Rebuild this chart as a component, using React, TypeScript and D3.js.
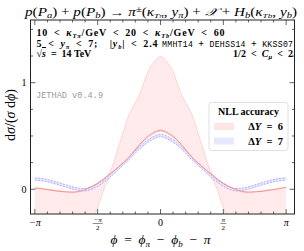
import React from 'react'
import * as d3 from 'd3'

// azimuthal grid (rad), -pi .. pi in steps of pi/12
const phiPts = [-3.1416, -2.8798, -2.618, -2.3562, -2.0944, -1.8326, -1.5708, -1.309, -1.0472, -0.7854, -0.5236, -0.2618, 0,
  0.2618, 0.5236, 0.7854, 1.0472, 1.309, 1.5708, 1.8326, 2.0944, 2.3562, 2.618, 2.8798, 3.1416]

// DeltaY = 6, central and scale band
const dY6 = [0.012, 0.0, -0.015, -0.025, -0.025, 0.005, 0.055, 0.13, 0.21, 0.30, 0.42, 0.51, 0.553,
  0.51, 0.42, 0.30, 0.21, 0.13, 0.055, 0.005, -0.025, -0.025, -0.015, 0.0, 0.018]
const dY6Hi = [0.016, 0.004, -0.011, -0.021, -0.021, 0.009, 0.06, 0.135, 0.40, 0.70, 0.89, 1.14, 1.244,
  1.14, 0.89, 0.70, 0.40, 0.135, 0.06, 0.009, -0.021, -0.021, -0.011, 0.004, 0.022]
const dY6Lo = [-1.73, -1.47, -1.21, -0.95, -0.69, -0.43, -0.17, 0.09, 0.20, 0.29, 0.41, 0.50, 0.545,
  0.50, 0.41, 0.29, 0.20, 0.09, -0.17, -0.43, -0.69, -0.95, -1.21, -1.47, -1.73]

// DeltaY = 7 band
const dY7Hi = [0.108, 0.096, 0.071, 0.041, 0.014, 0.009, 0.051, 0.121, 0.212, 0.302, 0.402, 0.477, 0.517,
  0.477, 0.402, 0.302, 0.212, 0.121, 0.051, 0.009, 0.014, 0.041, 0.071, 0.096, 0.108]
const dY7Lo = [0.086, 0.074, 0.049, 0.019, -0.008, -0.013, 0.029, 0.099, 0.188, 0.278, 0.378, 0.453, 0.493,
  0.453, 0.378, 0.278, 0.188, 0.099, 0.029, -0.013, -0.008, 0.019, 0.049, 0.074, 0.086]

const yTicks = [0, 0.25, 0.5, 0.75, 1, 1.25, 1.5]
const yLabels = [{ v: 0, t: '0' }, { v: 1, t: '1' }]

const W = 304, H = 251
const L = 30.5, R = 294.5, T = 20, B = 214

const serif = "'Liberation Serif', 'DejaVu Serif', serif"
const mono = "'Liberation Mono', 'DejaVu Sans Mono', monospace"
const sp = '\u2002' // en space, LaTeX-ish relation spacing

export default function App() {
  const x = d3.scaleLinear().domain([-3.25, 3.35]).range([L, R])
  const y = d3.scaleLinear().domain([-0.232, 1.588]).range([B, T])

  const line = (vals: number[]) =>
    d3.line<number>().x((d, i) => x(phiPts[i])).y(d => y(d)).curve(d3.curveCatmullRom)(vals) || ''
  const band = (lo: number[], hi: number[]) =>
    d3.area<number>()
      .x((d, i) => x(phiPts[i]))
      .y0((d, i) => y(lo[i]))
      .y1((d, i) => y(hi[i]))
      .curve(d3.curveCatmullRom)(lo) || ''

  const xMinor = d3.range(-10, 11).map(k => (k * Math.PI) / 10)
  const xMajor = [-Math.PI, -Math.PI / 2, 0, Math.PI / 2, Math.PI]

  const red = '#ff8c8c'
  const redEdge = '#ffc4c4'
  const blue = '#9b9bff'

  return (
    <svg width={W} height={H} style={{ position: 'absolute', left: 0, top: 0, background: '#fff' }}
      fontFamily={serif}>
      <defs>
        <clipPath id="plot"><rect x={L} y={T} width={R - L} height={B - T} /></clipPath>
      </defs>

      <g clipPath="url(#plot)">
        <path d={band(dY6Lo, dY6Hi)} fill="#ffe3e3" fillOpacity={0.7} stroke="none" />
        <path d={line(dY6Hi)} fill="none" stroke={redEdge} strokeWidth={0.7} />
        <path d={line(dY6Lo)} fill="none" stroke={redEdge} strokeWidth={0.7} />
        <path d={band(dY7Lo, dY7Hi)} fill="#e8e8ff" stroke="none" />
        <path d={line(dY7Hi)} fill="none" stroke={blue} strokeWidth={0.8} strokeDasharray="2,1.2" />
        <path d={line(dY7Lo)} fill="none" stroke={blue} strokeWidth={0.8} strokeDasharray="2,1.2" />
        <path d={line(dY6)} fill="none" stroke={red} strokeWidth={1} />
      </g>

      {/* frame */}
      <rect x={L} y={T} width={R - L} height={B - T} fill="none" stroke="#222" strokeWidth={1} />

      {/* x ticks */}
      {xMinor.map((v, i) => {
        const major = xMajor.some(m => Math.abs(m - v) < 1e-6)
        const len = major ? 5 : 2.5
        return (
          <g key={'xt' + i} stroke="#222" strokeWidth={0.7}>
            <line x1={x(v)} x2={x(v)} y1={B} y2={B - len} />
            <line x1={x(v)} x2={x(v)} y1={T} y2={T + len} />
          </g>
        )
      })}
      {/* y ticks */}
      {yTicks.map((v, i) => {
        const len = v === 0 || v === 1 ? 5 : 2.5
        return (
          <g key={'yt' + i} stroke="#222" strokeWidth={0.7}>
            <line x1={L} x2={L + len} y1={y(v)} y2={y(v)} />
            <line x1={R} x2={R - len} y1={y(v)} y2={y(v)} />
          </g>
        )
      })}
      {yLabels.map(d => (
        <text key={'yl' + d.t} x={L - 4} y={y(d.v) + 3.5} textAnchor="end" fontSize={10}>{d.t}</text>
      ))}

      {/* x tick labels */}
      <text x={x(-Math.PI)} y={226} textAnchor="middle" fontSize={10} fontStyle="italic">−π</text>
      <text x={x(0)} y={226} textAnchor="middle" fontSize={10}>0</text>
      <text x={x(Math.PI)} y={226} textAnchor="middle" fontSize={10} fontStyle="italic">π</text>
      <g fontSize={7} textAnchor="middle">
        <text x={x(-Math.PI / 2)} y={222} fontStyle="italic">−π</text>
        <line x1={x(-Math.PI / 2) - 5} x2={x(-Math.PI / 2) + 5} y1={223.5} y2={223.5} stroke="#222" strokeWidth={0.5} />
        <text x={x(-Math.PI / 2)} y={229.5}>2</text>
        <text x={x(Math.PI / 2)} y={222} fontStyle="italic">π</text>
        <line x1={x(Math.PI / 2) - 3} x2={x(Math.PI / 2) + 3} y1={223.5} y2={223.5} stroke="#222" strokeWidth={0.5} />
        <text x={x(Math.PI / 2)} y={229.5}>2</text>
      </g>

      {/* axis titles */}
      <text x={x(0)} y={244} textAnchor="middle" fontSize={13.5} style={{ whiteSpace: 'pre' }}>
        <tspan fontStyle="italic">ϕ</tspan>{sp}={sp}<tspan fontStyle="italic">ϕ</tspan>
        <tspan fontSize={9} fontStyle="italic" dy={2.5}>π</tspan>
        <tspan dy={-2.5}>{sp}−{sp}</tspan><tspan fontStyle="italic">ϕ</tspan>
        <tspan fontSize={9} fontStyle="italic" dy={2.5}>b</tspan>
        <tspan dy={-2.5}>{sp}−{sp}</tspan><tspan fontStyle="italic">π</tspan>
      </text>
      <text transform={`translate(15,${(T + B) / 2 - 2}) rotate(-90)`} textAnchor="middle" fontSize={14}>
        d<tspan fontStyle="italic">σ</tspan>/(<tspan fontStyle="italic">σ</tspan> d<tspan fontStyle="italic">ϕ</tspan>)
      </text>

      {/* title */}
      <text x={161} y={16} textAnchor="middle" fontSize={11.5} textLength={272} lengthAdjust="spacingAndGlyphs">
        <tspan fontStyle="italic">p</tspan>(<tspan fontStyle="italic">P</tspan>
        <tspan fontSize={8} fontStyle="italic" dy={2}>a</tspan><tspan dy={-2}>) + </tspan>
        <tspan fontStyle="italic">p</tspan>(<tspan fontStyle="italic">P</tspan>
        <tspan fontSize={8} fontStyle="italic" dy={2}>b</tspan><tspan dy={-2}>) → </tspan>
        <tspan fontStyle="italic">π</tspan><tspan fontSize={8} dy={-4}>±</tspan>
        <tspan dy={4}>(</tspan><tspan fontStyle="italic">κ</tspan>
        <tspan fontSize={7} fontStyle="italic" dy={2}>Tπ</tspan><tspan dy={-2}>, </tspan>
        <tspan fontStyle="italic">y</tspan><tspan fontSize={8} fontStyle="italic" dy={2}>π</tspan>
        <tspan dy={-2}>) + </tspan><tspan fontStyle="italic">𝒳</tspan> + <tspan fontStyle="italic">H</tspan>
        <tspan fontSize={8} fontStyle="italic" dy={2}>b</tspan><tspan dy={-2}>(</tspan>
        <tspan fontStyle="italic">κ</tspan><tspan fontSize={7} fontStyle="italic" dy={2}>Tb</tspan>
        <tspan dy={-2}>, </tspan><tspan fontStyle="italic">y</tspan>
        <tspan fontSize={8} fontStyle="italic" dy={2}>b</tspan><tspan dy={-2}>)</tspan>
      </text>

      {/* info lines */}
      <g fontSize={10} fontWeight="bold" style={{ whiteSpace: 'pre' }}>
        <text x={36.5} y={35.5} textLength={188} lengthAdjust="spacing">
          10{sp}&lt;{sp}<tspan fontStyle="italic">κ</tspan><tspan fontSize={6.5} fontStyle="italic" dy={2}>Tπ</tspan>
          <tspan dy={-2}>/GeV{sp}&lt;{sp}20{sp}&lt;{sp}</tspan><tspan fontStyle="italic">κ</tspan>
          <tspan fontSize={6.5} fontStyle="italic" dy={2}>Tb</tspan><tspan dy={-2}>/GeV{sp}&lt;{sp}60</tspan>
        </text>
        <text x={36.5} y={46.5} textLength={121} lengthAdjust="spacing">
          5{sp}&lt;{sp}<tspan fontStyle="italic">y</tspan><tspan fontSize={6.5} fontStyle="italic" dy={2}>π</tspan>
          <tspan dy={-2}>{sp}&lt;{sp}7;{sp}{sp}|</tspan><tspan fontStyle="italic">y</tspan>
          <tspan fontSize={6.5} fontStyle="italic" dy={2}>b</tspan><tspan dy={-2}>|{sp}&lt;{sp}2.4</tspan>
        </text>
        <text x={162} y={46.5} fontFamily={mono} fontWeight="normal" fontSize={8.2} textLength={131} lengthAdjust="spacing">
          MMHT14 <tspan fontFamily={serif} fontWeight="bold" fontSize={10}>+</tspan> DEHSS14 <tspan fontFamily={serif} fontWeight="bold" fontSize={10}>+</tspan> KKSS07
        </text>
        <text x={36.5} y={57}>
          √<tspan fontStyle="italic" textDecoration="overline">s</tspan>{sp}={sp}14 TeV
        </text>
        <text x={233} y={57} textLength={60} lengthAdjust="spacing">
          1/2{sp}&lt;{sp}<tspan fontStyle="italic">C</tspan><tspan fontSize={6.5} fontStyle="italic" dy={2}>μ</tspan>
          <tspan dy={-2}>{sp}&lt;{sp}2</tspan>
        </text>
      </g>

      <text x={36} y={98} fontFamily={mono} fontSize={8.6} fill="#9a9a9a">JETHAD v0.4.9</text>

      {/* legend */}
      <g>
        <rect x={209} y={102.5} width={79} height={48} rx={2.5} fill="#fff" fillOpacity={0.85} stroke="#d8d8d8" strokeWidth={0.8} />
        <text x={248.5} y={115} textAnchor="middle" fontSize={10} fontWeight="bold">NLL accuracy</text>
        <rect x={214} y={123} width={20} height={7} fill="#ffe6e6" />
        <text x={283} y={130} textAnchor="end" fontSize={10.5} fontWeight="bold" style={{ whiteSpace: 'pre' }}>
          Δ<tspan fontStyle="italic">Y</tspan>{sp}={sp}6
        </text>
        <rect x={214} y={137.5} width={20} height={7} fill="#e8e8ff" />
        <text x={283} y={144.5} textAnchor="end" fontSize={10.5} fontWeight="bold" style={{ whiteSpace: 'pre' }}>
          Δ<tspan fontStyle="italic">Y</tspan>{sp}={sp}7
        </text>
      </g>
    </svg>
  )
}
